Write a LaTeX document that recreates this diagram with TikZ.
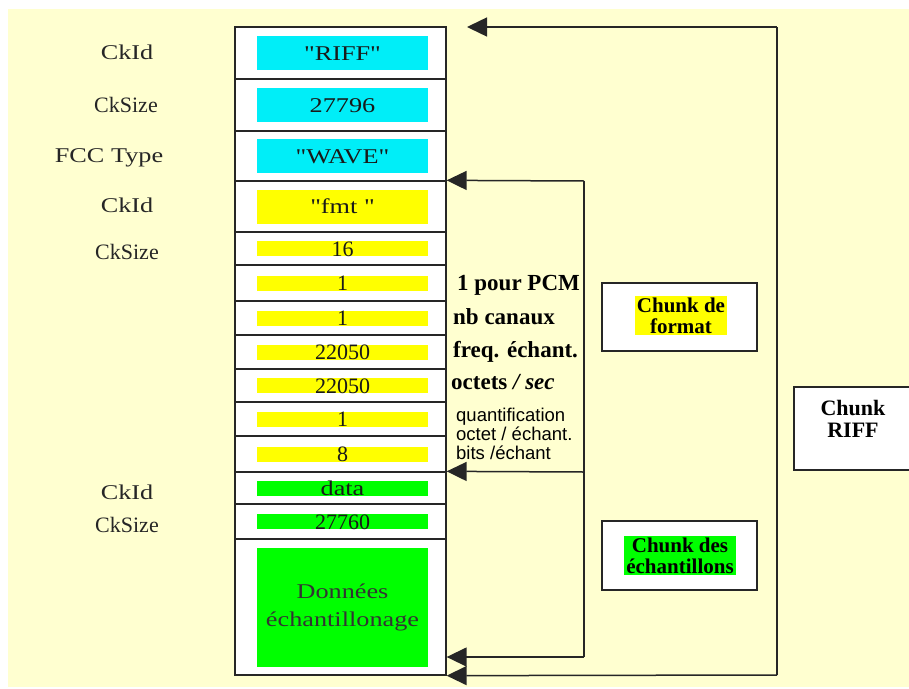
\documentclass[tikz,border=0pt]{standalone}
\usepackage{fontspec}
\setmainfont{Liberation Serif}
\setsansfont{Liberation Sans}
\newfontfamily\widefont[FakeStretch=1.25]{Liberation Serif}
\usetikzlibrary{arrows.meta,positioning}
\definecolor{paper}{RGB}{255,255,208}
\definecolor{riffcyan}{RGB}{0,238,248}
\definecolor{fmtyellow}{RGB}{255,255,0}
\definecolor{datagreen}{RGB}{0,255,0}

\begin{document}
\begin{tikzpicture}[
  x=1pt,
  y=-1pt,
  cell/.style={draw=black!85,fill=white,line width=1.3pt,minimum width=211pt,inner sep=0pt},
  bigbar/.style={minimum width=171pt,minimum height=34pt,inner sep=0pt,text height=14pt,text depth=0pt,font=\widefont\fontsize{21}{26}\selectfont,text=black!90},
  smallbar/.style={minimum width=171pt,minimum height=15pt,inner sep=0pt,text height=15pt,text depth=0pt,font=\fontsize{22}{26}\selectfont,text=black!90},
  field/.style={inner sep=0pt,text height=15pt,text depth=0pt,font=\widefont\fontsize{21}{26}\selectfont,text=black!85},
  fieldn/.style={inner sep=0pt,text height=15pt,text depth=0pt,font=\fontsize{22}{26}\selectfont,text=black!85},
  note/.style={anchor=west,inner sep=0pt,text height=15pt,text depth=0pt,font=\bfseries\fontsize{23}{26}\selectfont},
  chunkbox/.style={draw=black!85,fill=white,line width=1.3pt,inner sep=0pt},
  chunklabel/.style={font=\bfseries\fontsize{21}{21}\selectfont,align=center,inner sep=2pt},
  link/.style={draw=black!85,line width=1.5pt},
  into/.style={link,-{Triangle[length=20pt,width=19pt]}}
  ]
  \useasboundingbox (0,0) rectangle (909,688);
  \clip (0,0) rectangle (909,688);
  \fill[paper] (8,9) rectangle (909,687);

  % Column of fields
  \foreach \name/\top/\bot in {riff/27/79,size/79/131,wave/131/181,fmt/181/232,
    fsize/232/265,pcm/265/301,chans/301/335,rate/335/369,bytes/369/402,
    blockalign/402/436,bits/436/472,data/472/504,dsize/504/539,samples/539/675} {
    \node[cell,minimum height={(\bot-\top)*1pt}] (\name) at (340.5,{(\top+\bot)/2}) {};
  }

  \node[bigbar,fill=riffcyan] (riffval) at ([xshift=2pt]riff.center) {"RIFF"};
  \node[bigbar,fill=riffcyan] (sizeval) at ([xshift=2pt]size.center) {27796};
  \node[bigbar,fill=riffcyan] (waveval) at ([xshift=2pt]wave.center) {"WAVE"};
  \node[bigbar,fill=fmtyellow] (fmtval) at ([xshift=2pt]fmt.center) {"fmt "};
  \node[smallbar,fill=fmtyellow] (fsizeval) at ([xshift=2pt]fsize.center) {16};
  \node[smallbar,fill=fmtyellow] (pcmval) at ([xshift=2pt]pcm.center) {1};
  \node[smallbar,fill=fmtyellow] (chansval) at ([xshift=2pt]chans.center) {1};
  \node[smallbar,fill=fmtyellow] (rateval) at ([xshift=2pt]rate.center) {22050};
  \node[smallbar,fill=fmtyellow] (bytesval) at ([xshift=2pt]bytes.center) {22050};
  \node[smallbar,fill=fmtyellow] (alignval) at ([xshift=2pt]blockalign.center) {1};
  \node[smallbar,fill=fmtyellow] (bitsval) at ([xshift=2pt]bits.center) {8};
  \node[smallbar,fill=datagreen,font=\widefont\fontsize{21}{26}\selectfont] (dataval) at ([xshift=2pt]data.center) {data};
  \node[smallbar,fill=datagreen] (dsizeval) at ([xshift=2pt]dsize.center) {27760};
  \node[fill=datagreen,minimum width=171pt,minimum height=119pt,inner sep=0pt,align=center,
    font=\widefont\fontsize{21}{28}\selectfont,text=black!80] (samplesval) at ([xshift=2pt]samples.center) {Données\\échantillonage};

  % Field names
  \node[field] (riffname) at (127,52) {CkId};
  \node[fieldn] (sizename) at (126,105) {CkSize};
  \node[field] (wavename) at (109,155) {FCC Type};
  \node[field] (fmtname) at (127,205) {CkId};
  \node[fieldn] (fsizename) at (127,252) {CkSize};
  \node[field] (dataname) at (127,492) {CkId};
  \node[fieldn] (dsizename) at (127,525) {CkSize};

  % Comments on the format fields
  \node[note] (pcmnote) at (457,283) {1 pour PCM};
  \node[note] (chansnote) at (453,317) {nb canaux};
  \node[note] (ratenote) at (453,350) {freq. échant.};
  \node[note] (bytesnote) at (451,382) {octets \textit{/ sec}};
  \node[anchor=west,inner sep=0pt,align=left,font=\sffamily\fontsize{18.5}{19}\selectfont] (bitsnote) at (456,434)
    {quantification\\octet / échant.\\bits /échant};

  % Chunk boxes
  \node[chunkbox,minimum width=155pt,minimum height=68pt] (fmtbox) at (679.5,317) {};
  \node[chunklabel,fill=fmtyellow] (fmtlabel) at (681,315.5) {Chunk de\\format};
  \node[chunkbox,minimum width=155pt,minimum height=69pt] (databox) at (679.5,555.5) {};
  \node[chunklabel,fill=datagreen] (datalabel) at (680,555.5) {Chunk des\\échantillons};
  \node[chunkbox,minimum width=118pt,minimum height=83pt] (riffbox) at (853,428.5) {};
  \node[font=\bfseries\fontsize{22}{22}\selectfont,align=center] (rifflabel) at (853,419) {Chunk\\RIFF};

  % Loops
  \coordinate (riffin) at (467,27);
  \coordinate (outertop) at (777,27);
  \coordinate (outerbot) at (777,675);
  \coordinate (innertop) at (584,181);
  \coordinate (innermid) at (584,472);
  \coordinate (innerbot) at (584,657);

  \draw[into] (outertop) -- (riffin);
  \draw[link] (outertop) -- (outerbot);
  \draw[into] (outerbot) -- (samples.south east);
  \draw[into] (innertop) -- (fmt.north east);
  \draw[link] (innertop) -- (innerbot);
  \draw[into] (innermid) -- (data.north east);
  \draw[into] (innerbot) -- (samples.east |- innerbot);
\end{tikzpicture}
\end{document}
